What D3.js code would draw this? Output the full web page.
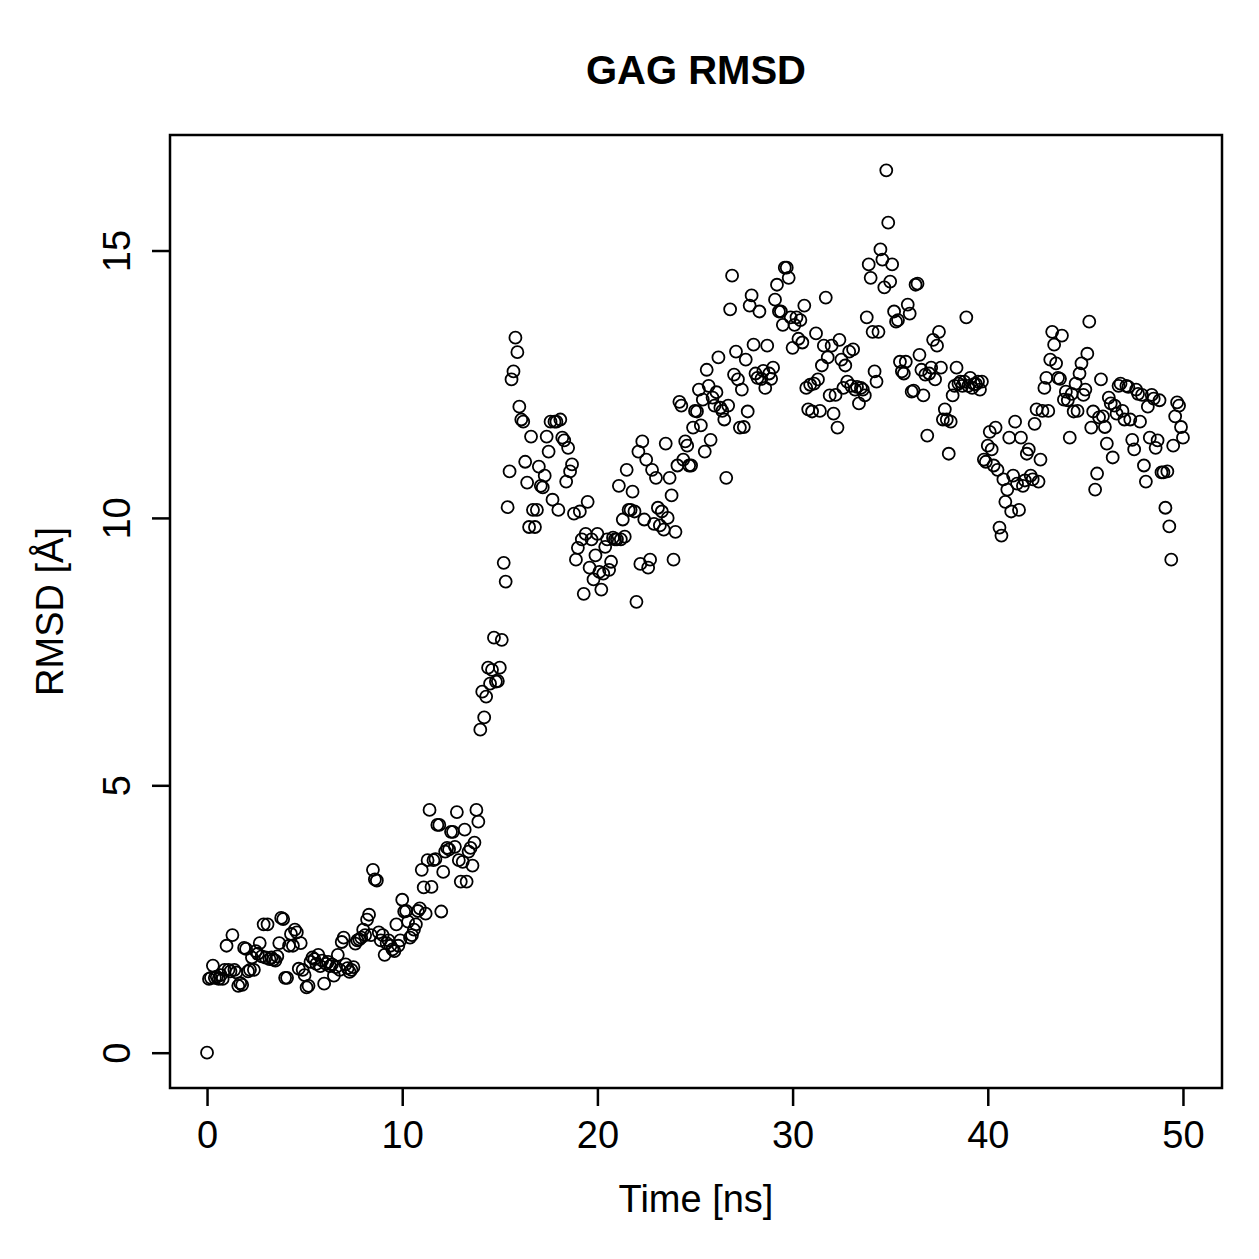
<!DOCTYPE html>
<html><head><meta charset="utf-8">
<script src="https://cdn.jsdelivr.net/npm/d3@7"></script>
<style>body{margin:0;background:#fff}svg{display:block}text{font-family:"Liberation Sans",Arial,Helvetica,sans-serif}</style>
</head><body>
<script>
const title = "GAG RMSD";
const xLabel = "Time [ns]";
const yLabel = "RMSD [Å]";
const timeStep = 0.1;
const xTicks = [0, 10, 20, 30, 40, 50];
const yTicks = [0, 5, 10, 15];
const rmsd = [
0,1.38,1.4,1.63,1.4,1.42,1.38,1.45,1.38,1.55,
2.0,1.55,1.52,2.2,1.55,1.5,1.25,1.3,1.27,1.96,
1.94,1.52,1.55,1.78,1.55,1.9,1.85,2.05,1.8,2.4,
1.78,2.4,1.75,1.78,1.74,1.72,1.8,2.05,2.52,2.5,
1.4,1.4,2.0,2.22,2.0,2.3,2.25,1.57,2.05,1.55,
1.45,1.22,1.25,1.7,1.78,1.75,1.66,1.83,1.62,1.72,
1.29,1.66,1.7,1.62,1.65,1.44,1.6,1.83,1.55,2.07,
2.15,1.65,1.58,1.51,1.55,1.6,2.04,2.1,2.12,2.15,
2.3,2.2,2.49,2.58,2.2,3.42,3.24,3.22,2.25,2.1,
2.2,1.83,2.05,2.1,2.0,1.93,1.9,2.4,2.0,2.1,
2.86,2.64,2.65,2.45,2.15,2.2,2.3,2.4,2.65,2.7,
3.42,3.09,2.6,3.6,4.54,3.1,3.6,3.62,4.26,4.26,
2.64,3.38,3.76,3.83,3.8,4.13,4.13,3.85,4.5,3.6,
3.2,3.57,4.17,3.2,3.76,3.83,3.5,3.93,4.54,4.32,
6.04,6.75,6.27,6.66,7.2,6.9,7.16,7.76,6.94,6.95,
7.2,7.72,9.16,8.81,10.2,10.87,12.59,12.74,13.37,13.1,
12.08,11.84,11.8,11.05,10.66,9.83,11.52,10.15,9.83,10.15,
10.96,10.6,10.57,10.79,11.52,11.24,11.8,10.34,11.8,11.8,
10.15,11.84,11.5,11.45,10.68,11.31,10.87,11.0,10.08,9.22,
9.44,10.12,9.6,8.58,9.7,10.3,9.07,9.6,8.85,9.3,
9.7,8.99,8.66,8.96,9.46,9.6,9.03,9.18,9.63,9.6,
9.6,10.6,9.6,9.97,9.65,10.9,10.15,10.15,10.49,10.12,
8.43,11.24,9.14,11.43,9.97,11.09,9.07,9.22,10.9,9.89,
10.75,10.19,9.86,10.12,9.78,11.39,10.0,10.75,10.42,9.22,
9.74,10.98,12.17,12.1,11.09,11.43,11.35,10.98,10.98,11.69,
12.0,11.99,12.4,11.73,12.21,11.24,12.77,12.47,11.46,12.25,12.1,12.35,
13.0,12.06,12.0,11.84,10.75,12.1,13.9,14.53,12.68,13.11,
12.59,11.69,12.4,11.7,12.96,11.99,13.97,14.16,13.24,12.7,
12.62,13.86,12.6,12.75,12.43,13.22,12.7,12.6,12.81,14.08,
14.36,13.86,13.86,13.61,14.68,14.68,14.49,13.75,13.18,13.61,13.75,13.35,
13.7,13.28,13.97,12.43,12.03,12.49,11.99,12.51,13.45,12.59,
12.0,12.85,13.22,14.12,13.0,12.29,13.22,11.95,12.3,11.69,
13.33,12.96,12.43,12.85,12.55,13.11,12.47,13.15,12.4,12.45,
12.14,12.43,12.4,12.29,13.75,14.74,14.49,13.48,12.74,12.55,
13.48,15.02,14.83,14.31,16.5,15.52,14.42,14.74,13.86,13.67,
13.7,12.92,12.74,12.7,12.92,13.99,13.82,12.36,12.38,14.36,
14.38,13.05,12.77,12.29,12.68,11.54,12.7,12.81,13.33,12.59,
13.22,13.48,12.81,11.84,12.03,11.84,11.2,11.8,12.29,12.47,
12.81,12.51,12.55,12.47,12.55,13.75,12.47,12.62,12.43,12.5,12.5,
12.55,12.4,12.55,11.09,11.05,11.35,11.61,11.28,10.98,11.69,
10.9,9.82,9.67,10.72,10.3,10.53,11.5,10.12,10.79,11.8,
10.64,10.15,11.5,10.6,10.7,11.2,11.28,10.79,
10.72,11.76,12.03,10.68,11.09,12.0,12.43,12.62,12.0,12.96,
13.48,13.24,12.89,12.62,12.6,13.41,12.21,12.36,12.2,
11.5,12.32,11.99,12.51,12.0,12.7,12.89,12.3,12.4,13.07,
13.67,11.69,11.99,10.53,10.83,11.88,12.59,11.9,11.7,11.39,
12.25,12.14,11.13,12.1,11.95,12.47,12.51,12.0,11.84,
12.47,12.45,11.84,11.46,11.28,12.4,12.32,11.8,12.3,
10.98,10.68,12.08,11.5,12.3,12.23,11.31,11.45,12.2,10.85,
10.85,10.19,10.87,9.84,9.22,11.35,11.9,12.16,12.1,11.7,
11.5
];
const data = rmsd.map((v, i) => ({t: +(i * timeStep).toFixed(1), v}));

const W = 1259, H = 1259;
const m = {l: 170, r: 1222, t: 135, b: 1088};
const svg = d3.select("body").append("svg").attr("width", W).attr("height", H);

const tMax = d3.max(data, d => d.t), vMax = d3.max(data, d => d.v), vMin = d3.min(data, d => d.v);
const x = d3.scaleLinear().domain([0 - 0.04 * tMax, tMax * 1.04]).range([m.l - 2, m.r]);
const y = d3.scaleLinear().domain([vMin - 0.04 * (vMax - vMin), vMax + 0.04 * (vMax - vMin)]).range([m.b, m.t]);

// points
svg.append("g").selectAll("circle").data(data).join("circle")
  .attr("cx", d => x(d.t)).attr("cy", d => y(d.v)).attr("r", 6)
  .attr("fill", "none").attr("stroke", "#000").attr("stroke-width", 1.8);

// box
svg.append("rect").attr("x", m.l).attr("y", m.t).attr("width", m.r - m.l).attr("height", m.b - m.t)
  .attr("fill", "none").attr("stroke", "#000").attr("stroke-width", 2.5);

const fam = '"Liberation Sans",Arial,sans-serif';
// x axis
const xa = svg.append("g").attr("transform", `translate(0,${m.b})`)
  .call(d3.axisBottom(x).tickValues(xTicks).tickSize(18).tickFormat(d3.format("d")));
xa.select(".domain").remove();
xa.selectAll(".tick line").attr("stroke-width", 2.5);
xa.selectAll(".tick text").attr("font-size", 38).attr("fill", "#000").attr("font-family", fam)
  .attr("y", 60).attr("dy", 0);

// y axis
const ya = svg.append("g").attr("transform", `translate(${m.l},0)`)
  .call(d3.axisLeft(y).tickValues(yTicks).tickSize(18).tickFormat(d3.format("d")));
ya.select(".domain").remove();
ya.selectAll(".tick line").attr("stroke-width", 2.5);
ya.selectAll(".tick text").attr("font-size", 38).attr("fill", "#000").attr("font-family", fam)
  .attr("x", 0).attr("dy", 0).attr("text-anchor", "middle")
  .attr("transform", "translate(-40,0) rotate(-90)");

// title & labels
svg.append("text").attr("x", (m.l + m.r) / 2).attr("y", 84).attr("text-anchor", "middle")
  .attr("font-size", 40).attr("font-weight", "bold").text(title);
svg.append("text").attr("x", (m.l + m.r) / 2).attr("y", 1212).attr("text-anchor", "middle")
  .attr("font-size", 38).text(xLabel);
svg.append("text").attr("transform", `translate(63,${(m.t + m.b) / 2}) rotate(-90)`).attr("text-anchor", "middle")
  .attr("font-size", 38).text(yLabel);
</script>
</body></html>
